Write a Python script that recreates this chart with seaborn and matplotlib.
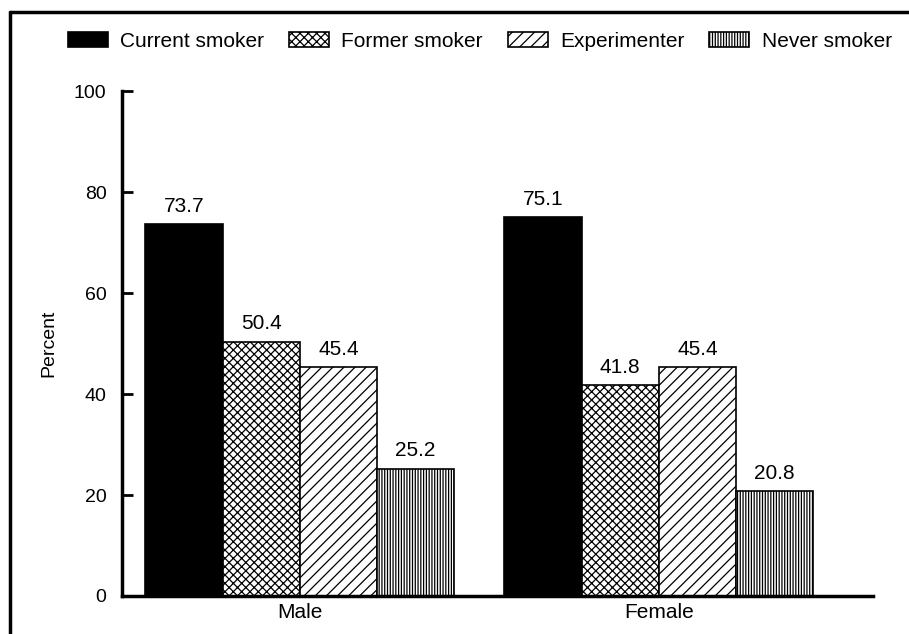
import seaborn as sns
import matplotlib.pyplot as plt
import pandas as pd
from matplotlib.lines import Line2D

# datos
sexos = ["Male", "Female"]
estados = ["Current smoker", "Former smoker", "Experimenter", "Never smoker"]
valores_male = [73.7, 50.4, 45.4, 25.2]
valores_female = [75.1, 41.8, 45.4, 20.8]
ticks_y = [0, 20, 40, 60, 80, 100]

df = pd.DataFrame({
    "sexo": [s for s in sexos for _ in estados],
    "estado": estados * 2,
    "porcentaje": valores_male + valores_female,
})

sns.set_style("white")
plt.rcParams['font.family'] = ['Liberation Sans', 'DejaVu Sans']
plt.rcParams['hatch.linewidth'] = 0.9
plt.rcParams['text.color'] = 'black'
plt.rcParams['xtick.color'] = 'black'
plt.rcParams['ytick.color'] = 'black'
plt.rcParams['axes.labelcolor'] = 'black'

fig = plt.figure(figsize=(9.09, 6.34), dpi=100)
ax = fig.add_axes([0.134, 0.060, 0.826, 0.796])

colores = {"Current smoker": "black", "Former smoker": "white",
           "Experimenter": "white", "Never smoker": "white"}
sns.barplot(data=df, x="sexo", y="porcentaje", hue="estado", hue_order=estados,
            palette=colores, width=0.86, edgecolor="black", linewidth=1.2,
            saturation=1, ax=ax)

tramas = [None, "xxxx", "///", "||||||"]
for cont, trama in zip(ax.containers, tramas):
    for barra in cont:
        if trama:
            barra.set_hatch(trama)
    ax.bar_label(cont, fmt="%.1f", padding=6, fontsize=15)

ax.set_ylim(0, 100)
ax.set_xlim(-0.496, 1.596)
ax.set_yticks(ticks_y)
ax.set_ylabel("Percent", fontsize=14, labelpad=12)
ax.set_xlabel("")
ax.tick_params(axis="y", left=True, direction="in", length=8, width=2, labelsize=14, pad=11)
ax.tick_params(axis="x", length=0, labelsize=15, pad=5)
for lado in ["top", "right"]:
    ax.spines[lado].set_visible(False)
for lado in ["left", "bottom"]:
    ax.spines[lado].set_linewidth(2.5)
    ax.spines[lado].set_color("black")

# leyenda arriba, con las mismas tramas
handles, labels = ax.get_legend_handles_labels()
for h, trama in zip(handles, tramas):
    if trama:
        h.set_hatch(trama)
ax.legend_.remove()
fig.legend(handles, labels, ncol=4, loc="center left", bbox_to_anchor=(0.066, 0.935),
           frameon=False, fontsize=15, handlelength=1.9, handleheight=0.77,
           handletextpad=0.6, columnspacing=1.2, borderaxespad=0)

# marco de la figura
fig.add_artist(Line2D([0.011, 0.011], [0.0, 0.981], transform=fig.transFigure,
                      color="black", linewidth=2.5))
fig.add_artist(Line2D([0.011, 1.0], [0.981, 0.981], transform=fig.transFigure,
                      color="black", linewidth=2.5))

plt.savefig("out.png", dpi=100)
